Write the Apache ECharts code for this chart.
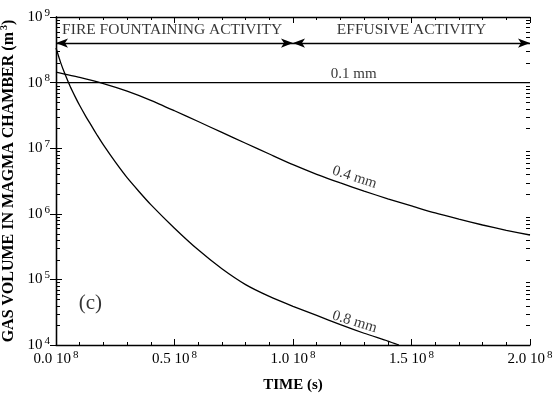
<!DOCTYPE html>
<html><head><meta charset="utf-8">
<script src="https://cdn.jsdelivr.net/npm/echarts@6/dist/echarts.min.js"></script>
<style>html,body{margin:0;background:#fff}#c{width:554px;height:395px}</style>
</head><body><div id="c"></div>
<script>
// time in units of 10^8 s
const xTicks = [0, 0.5, 1.0, 1.5, 2.0];
const yDecades = [4, 5, 6, 7, 8, 9];
const curve01 = [[0, 1e8], [2.0, 1e8]];
const curve04 = [[0,1.445e8],[0.1,1.2e8],[0.2,9.66e7],[0.3,7.41e7],[0.4,5.37e7],[0.5,3.72e7],[0.6,2.55e7],[0.7,1.74e7],[0.8,1.19e7],[0.9,8.15e6],[1.0,5.6e6],[1.1,4.0e6],[1.2,2.95e6],[1.3,2.22e6],[1.4,1.69e6],[1.5,1.32e6],[1.6,1.03e6],[1.7,8.3e5],[1.8,6.75e5],[1.9,5.61e5],[2.0,4.75e5]];
const curve08 = [[0,3.37e8],[0.02,2.0e8],[0.04,1.29e8],[0.06,8.71e7],[0.08,6.17e7],[0.1,4.47e7],[0.125,3.09e7],[0.15,2.19e7],[0.175,1.55e7],[0.2,1.12e7],[0.25,6.17e6],[0.3,3.55e6],[0.35,2.19e6],[0.4,1.38e6],[0.5,6.03e5],[0.6,2.82e5],[0.7,1.45e5],[0.8,8.32e4],[0.9,5.5e4],[1.0,3.89e4],[1.1,2.82e4],[1.2,2.04e4],[1.3,1.51e4],[1.4,1.15e4],[1.447,1.0e4]];
const curveLabels = [
  {name:'0.1 mm', value:[1.256, 1.35e8], rot:0},
  {name:'0.4 mm', value:[1.26, 3.6e6], rot:-18},
  {name:'0.8 mm', value:[1.26, 2.25e4], rot:-17}
];
const phaseArrows = [[0, 1.0], [1.0, 2.0]];
const phaseArrowY = 4.0e8;
const phaseLabels = [
  {name:'FIRE FOUNTAINING ACTIVITY', value:[0.49, 6.4e8]},
  {name:'EFFUSIVE ACTIVITY', value:[1.5, 6.4e8]}
];
const panelLabel = {name:'(c)', value:[0.145, 4.3e4]};
const minorY = [];
for (let e = 4; e < 9; e++) for (let k = 2; k <= 9; k++) minorY.push(k * Math.pow(10, e));

const FONT = 'Liberation Serif';
const chart = echarts.init(document.getElementById('c'));
const supRich = {
  b: {fontFamily: FONT, fontSize: 15, color: '#000'},
  s: {fontFamily: FONT, fontSize: 11, color: '#000', verticalAlign: 'top', padding: [0,0,8,2]}
};
const lineStyle = {color: '#000', width: 1.3};
function minorTickSeries(side, color, len) {
  return {
    type: 'custom', silent: true, clip: false, z: 20,
    data: minorY.map(v => [1, v]),
    renderItem: (params, api) => {
      const cs = params.coordSys;
      const y = Math.round(api.coord([1, api.value(1)])[1]) + 0.5;
      const x0 = side === 'left' ? cs.x : cs.x + cs.width - len;
      return {type: 'line', shape: {x1: x0, y1: y, x2: x0 + len, y2: y}, style: {stroke: color, lineWidth: 1}};
    }
  };
}
chart.setOption({
  animation: false,
  backgroundColor: '#fff',
  grid: {left: 56, right: 24, top: 17, bottom: 50, containLabel: false, outerBoundsMode: 'none'},
  xAxis: [{
    type: 'value', min: 0, max: 2, interval: 0.5,
    axisLine: {lineStyle: {color: '#000', width: 1.3}},
    axisTick: {inside: true, length: 6, lineStyle: {color: '#000'}},
    minorTick: {show: true, splitNumber: 5, length: 3, lineStyle: {color: '#000'}},
    splitLine: {show: false},
    axisLabel: {margin: 5, formatter: v => '{b|' + v.toFixed(1) + ' 10}{s|8}', rich: supRich},
    name: 'TIME (s)', nameLocation: 'middle', nameGap: 33,
    nameTextStyle: {fontFamily: FONT, fontSize: 15, fontWeight: 'bold', color: '#000'}
  }, {
    type: 'value', min: 0, max: 2, interval: 0.5, position: 'top',
    axisLine: {show: true, lineStyle: {color: '#000', width: 1.3}},
    axisTick: {show: true, inside: true, length: 6, lineStyle: {color: '#000'}},
    minorTick: {show: true, splitNumber: 5, length: 3, lineStyle: {color: '#000'}},
    splitLine: {show: false}, axisLabel: {show: false}
  }],
  yAxis: [{
    type: 'log', logBase: 10, min: 1e4, max: 1e9, splitNumber: 5,
    axisLine: {show: true, lineStyle: {color: '#000', width: 1.3}},
    axisTick: {show: true, inside: true, length: 6, lineStyle: {color: '#000'}},
    splitLine: {show: false},
    axisLabel: {margin: 6, formatter: v => '{b|10}{s|' + Math.round(Math.log10(v)) + '}', rich: supRich},
    name: '{b|GAS VOLUME IN MAGMA CHAMBER (m}{s|3}{b|)}', nameLocation: 'middle', nameGap: 34,
    nameTextStyle: {rich: {
      b: {fontFamily: FONT, fontSize: 16, fontWeight: 'bold', color: '#000'},
      s: {fontFamily: FONT, fontSize: 10, fontWeight: 'bold', color: '#000', verticalAlign: 'top', padding: [0,0,8,2]}
    }}
  }, {
    type: 'log', logBase: 10, min: 1e4, max: 1e9, splitNumber: 5, position: 'right',
    axisLine: {show: true, lineStyle: {color: '#000', width: 1.3}},
    axisTick: {show: true, inside: true, length: 6, lineStyle: {color: '#000'}},
    splitLine: {show: false}, axisLabel: {show: false}
  }],
  series: [
    {type: 'line', data: curve01, showSymbol: false, lineStyle: lineStyle, silent: true},
    {type: 'line', data: curve04, showSymbol: false, smooth: 0.2, lineStyle: lineStyle, silent: true},
    {type: 'line', data: curve08, showSymbol: false, smooth: 0.2, lineStyle: lineStyle, silent: true,
      markLine: {
        silent: true, symbol: ['arrow', 'arrow'], symbolSize: [7, 12],
        lineStyle: {color: '#000', type: 'solid', width: 1.3}, label: {show: false},
        data: phaseArrows.map(a => [{coord: [a[0], phaseArrowY]}, {coord: [a[1], phaseArrowY]}])
      }
    },
    minorTickSeries('left', '#000', 4),
    minorTickSeries('right', '#000', 4),
    {
      type: 'scatter', symbolSize: 0, silent: true,
      data: curveLabels.map(d => ({name: d.name, value: d.value, label: {rotate: d.rot}})),
      label: {show: true, position: 'inside', formatter: p => p.name, fontFamily: FONT, fontSize: 15, color: '#000'}
    },
    {
      type: 'scatter', symbolSize: 0, silent: true,
      data: phaseLabels.concat([{name: panelLabel.name, value: panelLabel.value, label: {fontSize: 21}}]),
      label: {show: true, position: 'inside', formatter: p => p.name, fontFamily: FONT, fontSize: 15.5, color: '#000'}
    }
  ]
});
</script></body></html>
